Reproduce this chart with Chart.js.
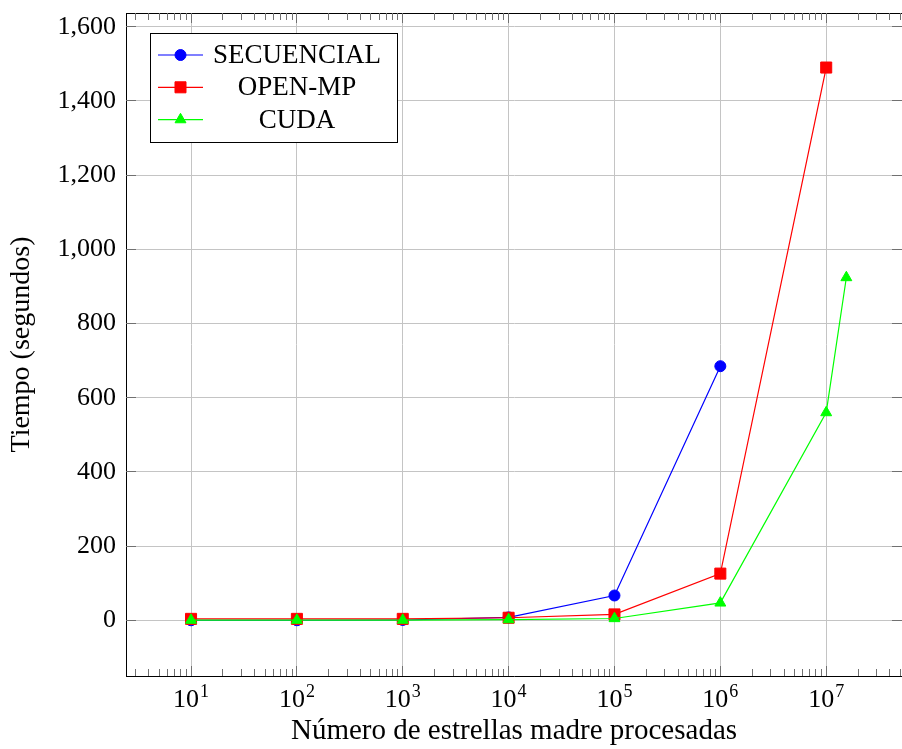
<!DOCTYPE html>
<html>
<head>
<meta charset="utf-8">
<script src="https://cdn.jsdelivr.net/npm/chart.js@4.4.1/dist/chart.umd.min.js"></script>
<style>
  html, body { margin: 0; padding: 0; background: #fff; overflow: hidden; }
  #wrap { width: 902px; height: 749px; }
  canvas { display: block; }
</style>
</head>
<body>
<div id="wrap"><canvas id="graficoTiempos" width="902" height="749"></canvas></div>
<script>
// Datos (tiempo en segundos)
const estrellas = [10, 100, 1000, 10000, 100000, 1000000, 10000000];
const estrellasCuda = [10, 100, 1000, 10000, 100000, 1000000, 10000000, 15500000];
const tiempoSecuencial = [0.2, 0.3, 1, 8, 67, 685];
const tiempoOpenMP = [4, 4, 4, 7, 16, 126, 1490];
const tiempoCuda = [0.5, 0.5, 0.6, 2, 5, 47, 560, 924];
const nombresSeries = ['SECUENCIAL', 'OPEN-MP', 'CUDA'];
const marcasY = [0, 200, 400, 600, 800, 1000, 1200, 1400, 1600];

const FUENTE = "'Liberation Serif', 'Times New Roman', serif";
const GRIS_REJILLA = '#c4c4c4';

function puntos(xs, ys) {
    return ys.map((v, i) => ({ x: xs[i], y: v }));
}

// marcas mayores y menores del eje logarítmico
function marcasLog(scale) {
    const lista = [];
    for (let e = 0; e <= 8; e++) {
        for (let m = 1; m <= 9; m++) {
            const v = m * Math.pow(10, e);
            if (v >= scale.min && v <= scale.max) lista.push({ value: v, major: m === 1 });
        }
    }
    scale.ticks = lista;
}

const alinear = p => Math.round(p - 0.5) + 0.5;

// ejes al estilo pgfplots: marcas hacia dentro, etiquetas 10^n y leyenda con marco
const ejesPgf = {
    id: 'ejesPgf',
    afterDraw(chart) {
        const { ctx, chartArea: a, scales: { x, y } } = chart;
        ctx.save();

        ctx.strokeStyle = '#000';
        ctx.lineWidth = 1;
        ctx.beginPath();
        ctx.moveTo(a.left, alinear(a.top));
        ctx.lineTo(a.right, alinear(a.top));
        ctx.stroke();

        ctx.strokeStyle = '#707070';
        ctx.beginPath();
        x.ticks.forEach(t => {
            const px = alinear(x.getPixelForValue(t.value));
            const largo = t.major ? 10 : 7;
            ctx.moveTo(px, a.bottom);
            ctx.lineTo(px, a.bottom - largo);
            ctx.moveTo(px, a.top);
            ctx.lineTo(px, a.top + largo);
        });
        y.ticks.forEach(t => {
            const py = alinear(y.getPixelForValue(t.value));
            ctx.moveTo(a.left, py);
            ctx.lineTo(a.left + 10, py);
            ctx.moveTo(a.right, py);
            ctx.lineTo(a.right - 10, py);
        });
        ctx.stroke();

        // etiquetas 10^n
        ctx.fillStyle = '#000';
        ctx.textBaseline = 'alphabetic';
        ctx.textAlign = 'left';
        x.ticks.filter(t => t.major).forEach(t => {
            const px = x.getPixelForValue(t.value);
            const exp = String(Math.round(Math.log10(t.value)));
            ctx.font = '26px ' + FUENTE;
            const wBase = ctx.measureText('10').width;
            ctx.font = '18px ' + FUENTE;
            const wExp = ctx.measureText(exp).width;
            const x0 = px - (wBase + 1 + wExp) / 2;
            ctx.font = '26px ' + FUENTE;
            ctx.fillText('10', x0, 707);
            ctx.font = '18px ' + FUENTE;
            ctx.fillText(exp, x0 + wBase + 1, 697);
        });

        // leyenda
        const caja = { x: 150.5, y: 33.5, w: 247, h: 109 };
        ctx.fillStyle = '#fff';
        ctx.fillRect(caja.x, caja.y, caja.w, caja.h);
        ctx.strokeStyle = '#000';
        ctx.strokeRect(caja.x, caja.y, caja.w, caja.h);
        chart.data.datasets.forEach((ds, i) => {
            const fy = 55 + i * 32.3;
            ctx.strokeStyle = ds.borderColor;
            ctx.lineWidth = ds.borderWidth;
            ctx.beginPath();
            ctx.moveTo(158, fy);
            ctx.lineTo(203, fy);
            ctx.stroke();
            ctx.fillStyle = ds.backgroundColor;
            ctx.lineWidth = ds.pointBorderWidth;
            Chart.helpers.drawPoint(ctx, {
                pointStyle: ds.pointStyle,
                radius: ds.pointRadius,
                borderWidth: ds.pointBorderWidth,
                rotation: 0
            }, 180.5, fy);
            ctx.fillStyle = '#000';
            ctx.font = '27px ' + FUENTE;
            ctx.textAlign = 'center';
            ctx.textBaseline = 'middle';
            ctx.fillText(ds.label, 297, fy + 1);
        });

        ctx.restore();
    }
};

const estilos = [
    { color: '#0000ff', forma: 'circle', radio: 5.5, orden: 3 },
    { color: '#ff0000', forma: 'rect', radio: 7.8, orden: 2 },
    { color: '#00ff00', forma: 'triangle', radio: 6.3, orden: 1 }
];
const series = [
    puntos(estrellas, tiempoSecuencial),
    puntos(estrellas, tiempoOpenMP),
    puntos(estrellasCuda, tiempoCuda)
];

const ctx = document.getElementById('graficoTiempos').getContext('2d');

new Chart(ctx, {
    type: 'line',
    data: {
        datasets: series.map((d, i) => ({
            label: nombresSeries[i],
            data: d,
            borderColor: estilos[i].color,
            backgroundColor: estilos[i].color,
            borderWidth: 1.2,
            pointStyle: estilos[i].forma,
            pointRadius: estilos[i].radio,
            pointBorderWidth: 1,
            pointBackgroundColor: estilos[i].color,
            pointBorderColor: estilos[i].color,
            tension: 0,
            fill: false,
            order: estilos[i].orden
        }))
    },
    options: {
        responsive: false,
        animation: false,
        layout: { autoPadding: false, padding: { top: 13, right: 0, left: 0, bottom: 0 } },
        plugins: {
            legend: { display: false },
            tooltip: { enabled: false }
        },
        scales: {
            x: {
                type: 'logarithmic',
                min: 2.43,
                max: 5.2e7,
                afterBuildTicks: marcasLog,
                ticks: { display: false },
                grid: {
                    color: c => (c.tick && c.tick.major) ? GRIS_REJILLA : 'rgba(0,0,0,0)',
                    lineWidth: 1,
                    drawTicks: false
                },
                border: { display: true, color: '#000', width: 1 },
                title: {
                    display: true,
                    text: 'Número de estrellas madre procesadas',
                    color: '#000',
                    font: { family: FUENTE, size: 29 },
                    padding: { top: 0, bottom: 0 }
                },
                afterFit: s => { s.height = 73; s.paddingLeft = 0; s.paddingRight = 0; }
            },
            y: {
                min: -150,
                max: 1637,
                afterBuildTicks: s => { s.ticks = marcasY.map(v => ({ value: v })); },
                ticks: {
                    callback: v => v.toLocaleString('en-US'),
                    color: '#000',
                    font: { family: FUENTE, size: 26 },
                    padding: 10
                },
                grid: { color: GRIS_REJILLA, lineWidth: 1, drawTicks: false },
                border: { display: true, color: '#000', width: 1 },
                title: {
                    display: true,
                    text: 'Tiempo (segundos)',
                    color: '#000',
                    font: { family: FUENTE, size: 28 },
                    padding: { top: 5, bottom: 0 }
                },
                afterFit: s => { s.width = 126; s.paddingTop = 0; s.paddingBottom = 0; }
            }
        }
    },
    plugins: [ejesPgf]
});
</script>
</body>
</html>
